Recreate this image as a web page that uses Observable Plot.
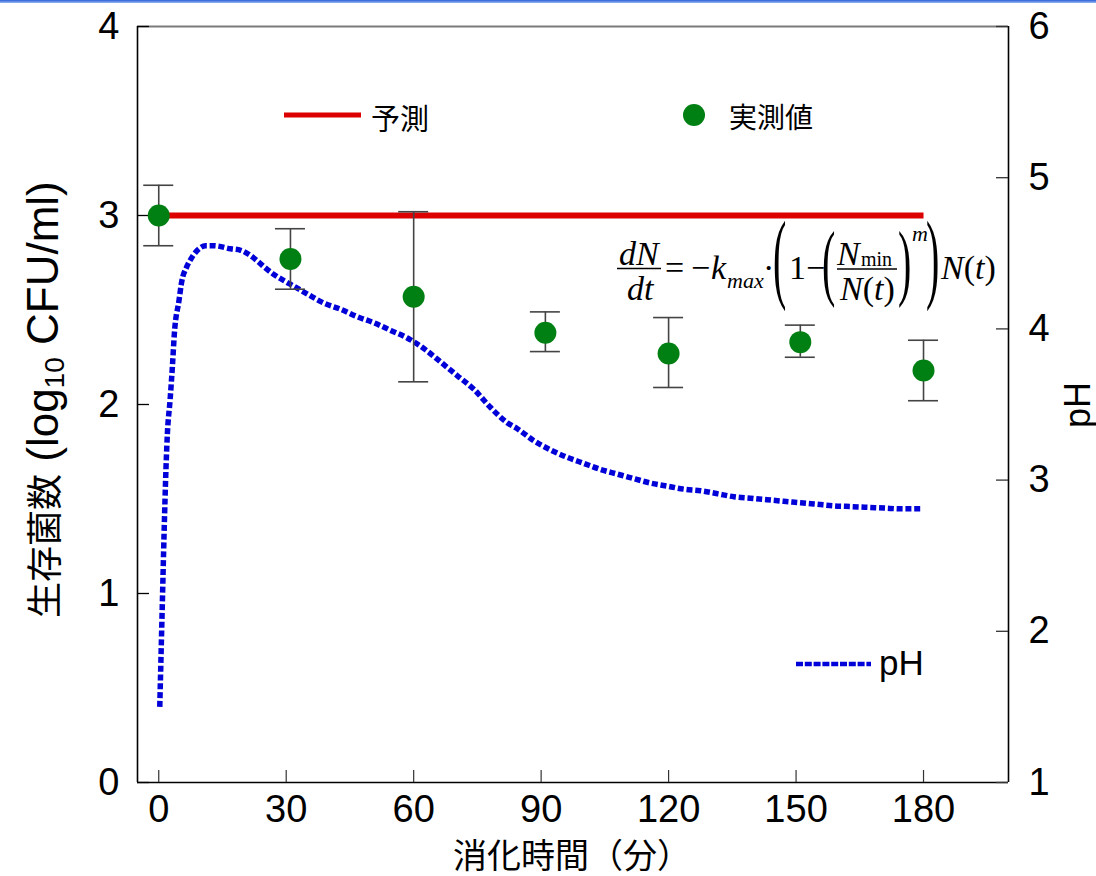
<!DOCTYPE html>
<html><head><meta charset="utf-8">
<script src="https://cdn.jsdelivr.net/npm/d3@7"></script>
<script src="https://cdn.jsdelivr.net/npm/@observablehq/plot@0.6"></script>
<style>
html,body{margin:0;padding:0;background:#fff;}
#wrap{position:relative;width:1096px;height:876px;overflow:hidden;background:#fff;}
#topbar{position:absolute;left:0;top:0;width:1096px;height:3px;background:linear-gradient(#2a5fd6,#9ab8f2);z-index:2;}
</style></head><body><div id="wrap"><div id="topbar"></div></div>
<script>
// ---- data ----
const timeTicks = [0, 30, 60, 90, 120, 150, 180];
const logTicks = [0, 1, 2, 3, 4];
const phTicks = [1, 2, 3, 4, 5, 6];

const obsTime = [0, 31, 60, 91, 120, 151, 180];
const obsMean = [3.00, 2.77, 2.57, 2.38, 2.27, 2.33, 2.18];
const obsHigh = [3.16, 2.93, 3.02, 2.49, 2.46, 2.42, 2.34];
const obsLow  = [2.84, 2.61, 2.12, 2.28, 2.09, 2.25, 2.02];

const predTime = [0, 180];
const predValue = [3.0, 3.0];

const phTime = [0.24,0.86,1.25,1.72,2.04,2.67,3.21,3.68,4.78,5.33,6.58,7.52,9.1,11,13,16.9,19.3,20.8,23.2,24.8,27.1,30.7,35,38.9,42.8,46.8,50.7,54.6,58.5,62.4,66.4,70.3,74.2,78.1,82,84.4,88.3,92.2,96.2,100.1,104,107.9,111.8,115.8,119.7,123.6,127.5,131.5,135.4,139.3,143.2,147.1,151.1,155,158.9,162.8,166.8,170.7,174.6,179.5];
const phValue = [1.50,2.20,2.64,3.09,3.31,3.53,3.75,3.97,4.19,4.30,4.41,4.46,4.52,4.55,4.55,4.53,4.52,4.50,4.45,4.41,4.36,4.30,4.23,4.17,4.13,4.08,4.04,3.99,3.94,3.87,3.78,3.69,3.60,3.48,3.38,3.34,3.26,3.20,3.15,3.11,3.07,3.04,3.01,2.98,2.96,2.94,2.93,2.91,2.89,2.88,2.87,2.86,2.85,2.84,2.83,2.825,2.82,2.815,2.81,2.81];

// ---- derived tables ----
const phToY = p => (p - 1) * 4 / 5;   // right axis pH 1..6 onto left axis 0..4
const obs = obsTime.map((t, i) => ({t, v: obsMean[i], hi: obsHigh[i], lo: obsLow[i]}));
const pred = predTime.map((t, i) => ({t, v: predValue[i]}));
const ph = phTime.map((t, i) => ({t, y: phToY(phValue[i])}));

const W = 1096, H = 876, ML = 137, MR = 88, MT = 26, MB = 94;
const plotW = W - ML - MR, plotH = H - MT - MB;
const sans = '"Liberation Sans", Arial, "Noto Sans CJK JP", sans-serif';
const cjk = '"Noto Sans CJK JP", "Liberation Sans", sans-serif';
const serif = '"Liberation Serif", "Times New Roman", serif';

const chart = Plot.plot({
  width: W, height: H,
  marginLeft: ML, marginRight: MR, marginTop: MT, marginBottom: MB,
  style: {fontFamily: sans, background: "white", overflow: "visible", color: "black"},
  x: {domain: [-5, 200]},
  y: {domain: [0, 4]},
  marks: [
    Plot.ruleY([4], {stroke: "#7a7a7a", strokeWidth: 2}),
    Plot.ruleY([0], {stroke: "#000", strokeWidth: 1.6}),
    Plot.ruleX([-5], {stroke: "#000", strokeWidth: 1.6}),
    Plot.ruleX([200], {stroke: "#000", strokeWidth: 1.6}),
    Plot.tickY(logTicks, {y: d => d, insetRight: plotW - 12, stroke: "#000", strokeWidth: 1.3}),
    Plot.tickY(phTicks, {y: d => phToY(d), insetLeft: plotW - 12, stroke: "#333", strokeWidth: 1.3}),
    Plot.tickX(timeTicks, {x: d => d, insetTop: plotH - 12, stroke: "#333", strokeWidth: 1.2}),
    Plot.axisX(timeTicks, {tickSize: 0, tickPadding: 13, fontSize: 38, label: null, tickFormat: d => String(d)}),
    Plot.axisY(logTicks, {anchor: "left", tickSize: 0, tickPadding: 18, fontSize: 38, label: null, tickFormat: d => String(d)}),
    Plot.axisY(phTicks.map(phToY), {anchor: "right", tickSize: 0, tickPadding: 20, fontSize: 38, label: null,
      tickFormat: d => String(Math.round(d * 5 / 4 + 1))}),
    Plot.line(pred, {x: "t", y: "v", stroke: "#dd0000", strokeWidth: 6, strokeLinecap: "butt"}),
    Plot.line(ph, {x: "t", y: "y", curve: "monotone-x", stroke: "#0000d8", strokeWidth: 5.5,
      strokeDasharray: "6,2.8", strokeLinecap: "butt", strokeLinejoin: "miter"}),
    Plot.ruleX(obs, {x: "t", y1: "lo", y2: "hi", stroke: "#444", strokeWidth: 1.6}),
    Plot.ruleY(obs, {y: "hi", x1: "t", x2: "t", insetLeft: -15, insetRight: -15, stroke: "#444", strokeWidth: 1.6}),
    Plot.ruleY(obs, {y: "lo", x1: "t", x2: "t", insetLeft: -15, insetRight: -15, stroke: "#444", strokeWidth: 1.6}),
    Plot.dot(obs, {x: "t", y: "v", r: 11, fill: "#007f12", stroke: "none"})
  ]
});
document.getElementById("wrap").appendChild(chart);

// ---- annotations: axis titles, legend, equation ----
const svg = d3.select(chart);
const g = svg.append("g").attr("text-anchor", "start");

// left axis title
const yl = g.append("text")
  .attr("transform", "translate(42,618) rotate(-90)")
  .attr("text-anchor", "start").attr("dominant-baseline", "central")
  .attr("font-family", sans).attr("font-size", 44).attr("fill", "#000");
yl.append("tspan").attr("font-family", cjk).attr("font-size", 36).text("生存菌数");
yl.append("tspan").text(" (log");
yl.append("tspan").attr("font-size", 28).attr("dy", 12).text("10");
yl.append("tspan").attr("dy", -12).text(" CFU/ml)");

// right axis title
g.append("text")
  .attr("transform", "translate(1077,405) rotate(-90)")
  .attr("text-anchor", "middle").attr("dominant-baseline", "central")
  .attr("font-family", sans).attr("font-size", 36).text("pH");

// x axis title
g.append("text").attr("x", 572).attr("y", 853)
  .attr("text-anchor", "middle").attr("dominant-baseline", "central")
  .attr("font-family", cjk).attr("font-size", 34).text("消化時間（分）");

// legend
g.append("line").attr("x1", 284).attr("x2", 361).attr("y1", 115).attr("y2", 115)
  .attr("stroke", "#dd0000").attr("stroke-width", 5);
g.append("text").attr("x", 371).attr("y", 117).attr("dominant-baseline", "central")
  .attr("font-family", cjk).attr("font-size", 29).text("予測");
g.append("circle").attr("cx", 694).attr("cy", 115).attr("r", 11).attr("fill", "#007f12");
g.append("text").attr("x", 729).attr("y", 116).attr("dominant-baseline", "central")
  .attr("font-family", cjk).attr("font-size", 28).text("実測値");
g.append("line").attr("x1", 796).attr("x2", 871).attr("y1", 664).attr("y2", 664)
  .attr("stroke", "#0000d8").attr("stroke-width", 4.5).attr("stroke-dasharray", "7,1.8");
g.append("text").attr("x", 879).attr("y", 675)
  .attr("font-family", sans).attr("font-size", 35).text("pH");

// equation
const eq = g.append("g").attr("font-family", serif).attr("fill", "#000").attr("text-anchor", "start");
function t(x, y, s, size, italic) {
  return eq.append("text").attr("x", x).attr("y", y).attr("font-size", size)
    .attr("font-style", italic ? "italic" : "normal").text(s);
}
function paren(x, y, s, size, sy) {
  eq.append("text").attr("transform", `translate(${x},${y}) scale(1,${sy})`)
    .attr("font-size", size).text(s);
}
t(619, 265, "dN", 34, true);
eq.append("line").attr("x1", 617).attr("x2", 661).attr("y1", 268.5).attr("y2", 268.5).attr("stroke", "#000").attr("stroke-width", 1.3);
t(627, 300, "dt", 34, true);
t(665, 279, "=", 34, false);
t(691, 279, "\u2212", 34, false);
t(711, 279, "k", 34, true);
t(727, 288, "max", 22, true);
t(763, 279, "\u00b7", 34, false);
paren(773, 290, "(", 40, 2.5);
t(789, 279, "1", 34, false);
t(806, 279, "\u2212", 34, false);
paren(822, 290, "(", 40, 2.1);
t(837, 265, "N", 34, true);
t(861, 266, "min", 20, false);
eq.append("line").attr("x1", 837).attr("x2", 897).attr("y1", 269).attr("y2", 269).attr("stroke", "#000").attr("stroke-width", 1.3);
const den = eq.append("text").attr("x", 840).attr("y", 300).attr("font-size", 34);
den.append("tspan").attr("font-style", "italic").text("N");
den.append("tspan").text("(");
den.append("tspan").attr("font-style", "italic").text("t");
den.append("tspan").text(")");
paren(898, 290, ")", 40, 2.1);
t(912, 241, "m", 22, true);
paren(926, 290, ")", 40, 2.5);
const rt = eq.append("text").attr("x", 941).attr("y", 279).attr("font-size", 34);
rt.append("tspan").attr("font-style", "italic").text("N");
rt.append("tspan").text("(");
rt.append("tspan").attr("font-style", "italic").text("t");
rt.append("tspan").text(")");
</script></body></html>
